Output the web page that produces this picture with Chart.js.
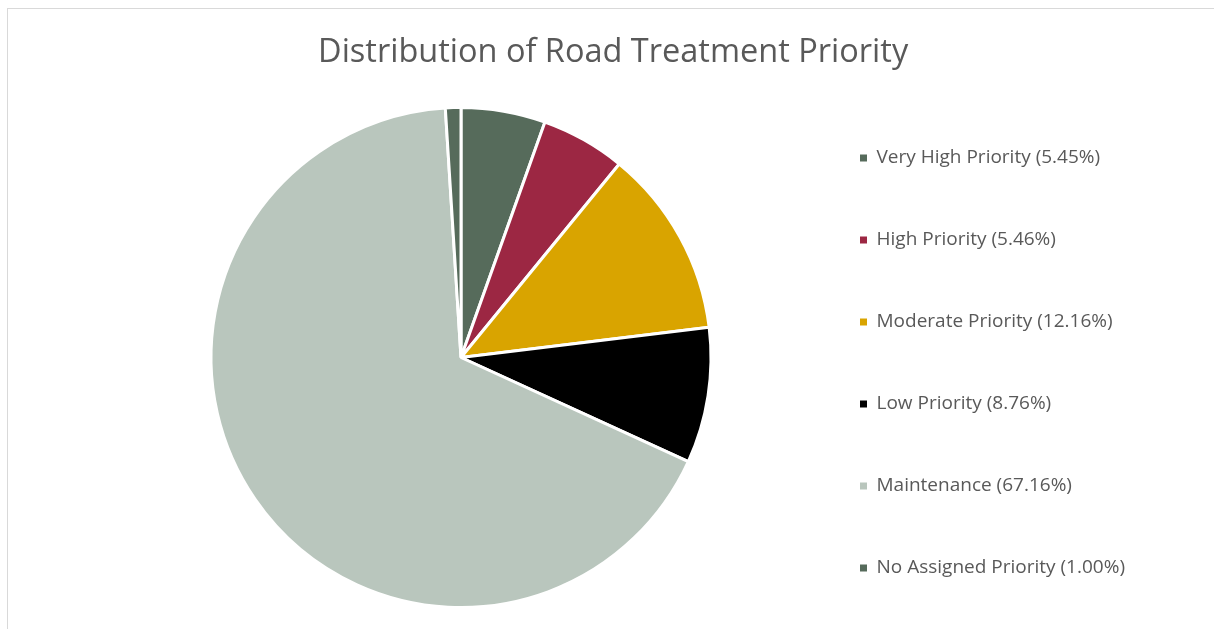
<!DOCTYPE html>
<html>
<head>
<meta charset="utf-8">
<script src="https://cdn.jsdelivr.net/npm/chart.js@4"></script>
<style>
    html, body { margin: 0; padding: 0; background: #fff; overflow: hidden; }
    #frame {
        position: absolute; left: 7px; top: 8px;
        width: 1300px; height: 700px;
        border: 1px solid #d9d9d9;
    }
    /* canvas a bit taller than the window: the legend needs the room below */
    #chart { position: absolute; left: 0; top: 0; }
</style>
</head>
<body>
<div id="frame"></div>
<canvas id="chart" width="1214" height="643"></canvas>
<script>
const categories = [
    'Very High Priority',
    'High Priority',
    'Moderate Priority',
    'Low Priority',
    'Maintenance',
    'No Assigned Priority'
];
const shares = [5.45, 5.46, 12.16, 8.76, 67.16, 1.00];
const sliceColors = ['#566b5b', '#9c2743', '#d9a400', '#000000', '#b9c6bd', '#566b5b'];

const labels = categories.map((c, i) => c + ' (' + shares[i].toFixed(2) + '%)');

new Chart(document.getElementById('chart'), {
    type: 'pie',
    data: {
        labels: labels,
        datasets: [{
            data: shares,
            backgroundColor: sliceColors,
            borderColor: '#ffffff',
            borderWidth: 3,
            radius: 250
        }]
    },
    options: {
        responsive: false,
        animation: false,
        layout: {
            padding: { left: 125, right: 79, top: 0, bottom: 0 }
        },
        plugins: {
            title: {
                display: true,
                // trailing spaces nudge the centred title a bit to the left
                text: 'Distribution of Road Treatment Priority    ',
                color: '#595959',
                font: { family: 'Open Sans', size: 32.5, weight: 'normal' },
                padding: { top: 33, bottom: 0 }
            },
            legend: {
                position: 'right',
                title: {
                    // empty title, only pushes the items down
                    display: true,
                    text: '',
                    font: { size: 10, lineHeight: '83px' },
                    padding: 0
                },
                labels: {
                    color: '#595959',
                    font: { family: 'Open Sans', size: 19 },
                    boxWidth: 7,
                    boxHeight: 7,
                    padding: 63,
                    generateLabels(chart) {
                        // no white outline on the small squares
                        const items = Chart.overrides.pie.plugins.legend.labels.generateLabels(chart);
                        items.forEach(it => { it.lineWidth = 0; });
                        return items;
                    }
                }
            },
            tooltip: { enabled: false }
        }
    }
});
</script>
</body>
</html>
